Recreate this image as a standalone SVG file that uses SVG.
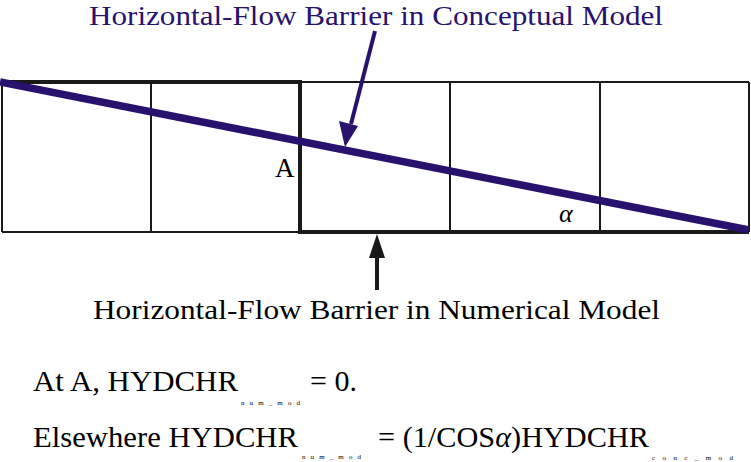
<svg xmlns="http://www.w3.org/2000/svg" width="751" height="462" viewBox="0 0 751 462">
<style>
text{font-family:'Liberation Serif','Times New Roman','DejaVu Serif',serif;fill:#000}
.b{fill:#28126e}
.s{font-size:7px}
.thin{stroke:#1a1a1a;stroke-width:2;fill:none}
.thick{stroke:#1a1a1a;stroke-width:4;fill:none}
</style>
<rect width="751" height="462" fill="#fff"/>
<g id="grid">
<path class="thin" d="M300,82 H749 M2,232 H300 M2,82 V232 M151,82 V232 M450,82 V232 M600,82 V232 M749,82 V232"/>
<path class="thick" d="M2,82 H300 V232 H749"/>
</g>
<g id="barrier-conceptual">
<line x1="0" y1="82" x2="749" y2="230" stroke="#28126e" stroke-width="7.5"/>
</g>
<g id="connectors">
<line x1="375" y1="31" x2="351" y2="124" stroke="#28126e" stroke-width="4"/>
<path d="M345,147 L339,121 L358,126 Z" fill="#28126e"/>
<line x1="377" y1="290" x2="377" y2="255" stroke="#1a1a1a" stroke-width="4"/>
<path d="M377,234 L369,258 L385,258 Z" fill="#1a1a1a"/>
</g>
<g id="labels">
<text class="b" x="89" y="25" font-size="27" textLength="574" lengthAdjust="spacingAndGlyphs">Horizontal-Flow Barrier in Conceptual Model</text>
<text x="93" y="319" font-size="28" textLength="567" lengthAdjust="spacingAndGlyphs">Horizontal-Flow Barrier in Numerical Model</text>
<text x="275" y="177" font-size="27">A</text>
<text x="559" y="222" font-size="26" font-style="italic">α</text>
<text x="33" y="391" font-size="30" textLength="205" lengthAdjust="spacingAndGlyphs">At A, HYDCHR</text>
<text class="s" x="241" y="405" textLength="59" lengthAdjust="spacing">num_mod</text>
<text x="310" y="391" font-size="30">= 0.</text>
<text x="33" y="447" font-size="30" textLength="265" lengthAdjust="spacingAndGlyphs">Elsewhere HYDCHR</text>
<text class="s" x="302" y="459" textLength="59" lengthAdjust="spacing">num_mod</text>
<text x="378" y="447" font-size="30" textLength="271" lengthAdjust="spacingAndGlyphs">= (1/COS<tspan font-style="italic">α</tspan>)HYDCHR</text>
<text class="s" x="652" y="460" textLength="81" lengthAdjust="spacing">conc_mod</text>
</g>
</svg>
